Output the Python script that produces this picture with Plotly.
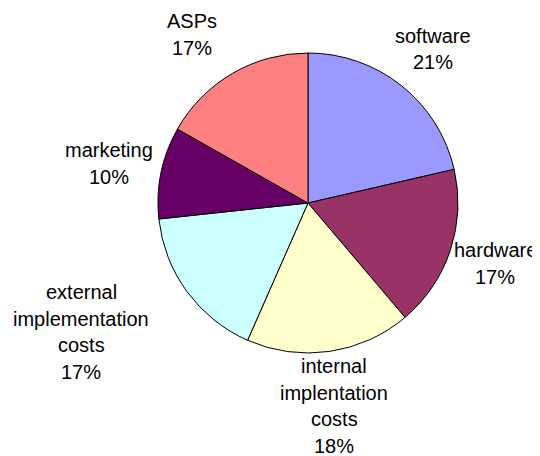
import plotly.graph_objects as go

# ---- data ----
categories = ["software", "hardware", "internal\nimplentation\ncosts",
              "external\nimplementation\ncosts", "marketing", "ASPs"]
values = [21.4, 17.4, 17.8, 16.7, 9.9, 16.8]
colors = ["#9999FF", "#993366", "#FFFFCC", "#CCFFFF", "#660066", "#FF8080"]

# ---- layout constants (window pixels) ----
OFF = 8                      # default page body margin
W, H = 540 - OFF, 456 - OFF  # figure size inside the window
CX, CY, R = 308 - OFF, 203 - OFF, 150
# label anchor: x centre, y centre of first line (window pixels from top)
label_pos = [(433, 36), (495, 250), (334, 366), (81, 292), (109, 150), (192, 21)]
LINE = 26.5
FONT = "Liberation Sans, Arial, Helvetica, sans-serif"

fig = go.Figure(go.Pie(
    labels=categories,
    values=values,
    sort=False,
    direction="clockwise",
    rotation=0,
    marker=dict(colors=colors, line=dict(color="black", width=1)),
    textinfo="none",
    hoverinfo="label+percent",
    showlegend=False,
    domain=dict(x=[(CX - R) / W, (CX + R) / W],
                y=[(H - CY - R) / H, (H - CY + R) / H]),
))

total = sum(values)
annotations = []
for cat, v, (lx, ly) in zip(categories, values, label_pos):
    lines = cat.split("\n") + [f"{round(v / total * 100)}%"]
    for i, line in enumerate(lines):
        annotations.append(dict(
            text=line, x=(lx - OFF) / W, y=1 - (ly - OFF + i * LINE) / H,
            xref="paper", yref="paper", xanchor="center", yanchor="middle",
            showarrow=False, borderpad=0,
            font=dict(family=FONT, size=20, color="black"),
        ))

fig.update_layout(
    width=W, height=H,
    margin=dict(l=0, r=0, t=0, b=0),
    paper_bgcolor="white",
    plot_bgcolor="white",
    annotations=annotations,
)

fig.write_html("out.html")
